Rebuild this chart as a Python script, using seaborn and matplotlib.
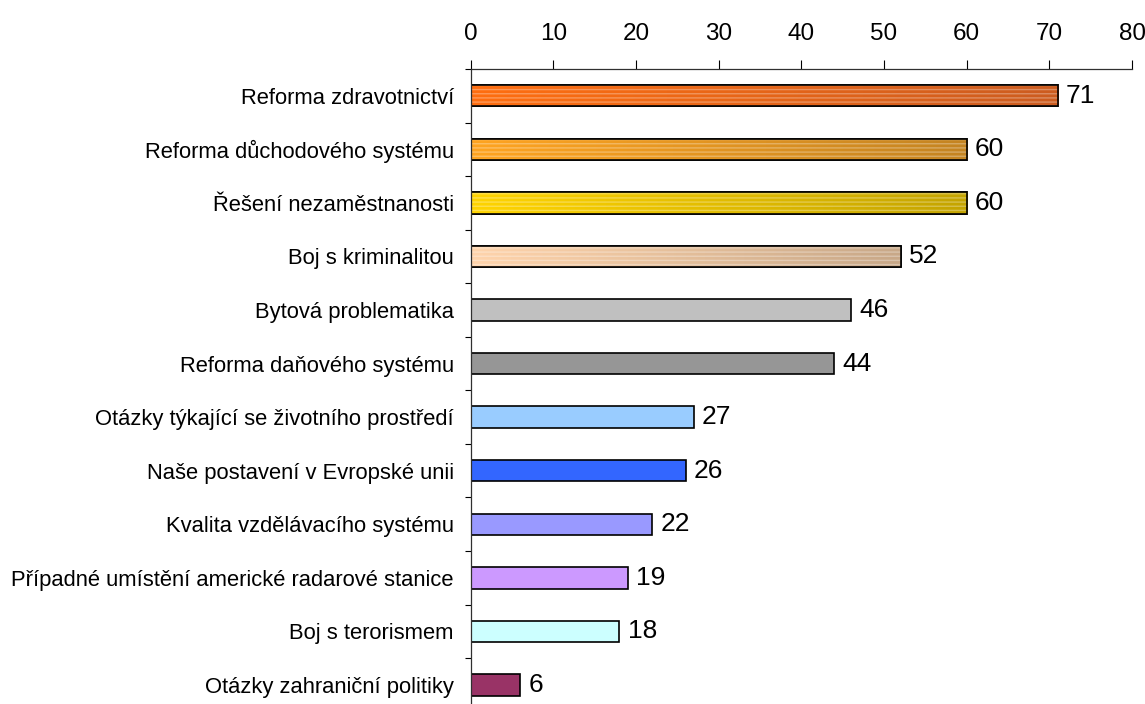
import numpy as np
import matplotlib
matplotlib.use('Agg')
import matplotlib.pyplot as plt
from matplotlib.colors import LinearSegmentedColormap
from matplotlib.patches import Rectangle
from matplotlib.ticker import FixedLocator
import seaborn as sns

# Survey answers, values in percent
categories = [
    'Reforma zdravotnictví',
    'Reforma důchodového systému',
    'Řešení nezaměstnanosti',
    'Boj s kriminalitou',
    'Bytová problematika',
    'Reforma daňového systému',
    'Otázky týkající se životního prostředí',
    'Naše postavení v Evropské unii',
    'Kvalita vzdělávacího systému',
    'Případné umístění americké radarové stanice',
    'Boj s terorismem',
    'Otázky zahraniční politiky',
]
values = [71, 60, 60, 52, 46, 44, 27, 26, 22, 19, 18, 6]
bar_colors = ['#f26a14', '#f2960f', '#f0c800', '#f0c8a0', '#c0c0c0', '#969696',
              '#99ccff', '#3366ff', '#9999ff', '#cc99ff', '#ccffff', '#993366']
# gradient ends (left, right) for the hatched bars at the top
gradients = [('#ff6e10', '#cc5c20'), ('#ffa420', '#c48422'),
             ('#ffd400', '#c4a400'), ('#ffd4ac', '#c8a888')]
x_ticks = [0, 10, 20, 30, 40, 50, 60, 70, 80]

sns.set_style('white')
plt.rcParams['font.family'] = ['Liberation Sans', 'DejaVu Sans']
plt.rcParams['text.color'] = 'black'
plt.rcParams['xtick.color'] = 'black'
plt.rcParams['ytick.color'] = 'black'

fig = plt.figure(figsize=(11.45, 7.04), dpi=100)
ax = fig.add_axes([0.411, -0.011, 0.5777, 0.913])

sns.barplot(x=values, y=categories, hue=categories, palette=bar_colors,
            legend=False, orient='h', width=0.4, edgecolor='black',
            linewidth=1.2, ax=ax, saturation=1)

# gradient + fine horizontal stripes on the first four bars
for patch, (c_left, c_right) in zip(ax.patches[:4], gradients):
    x0, y0 = patch.get_x(), patch.get_y()
    w, h = patch.get_width(), patch.get_height()
    cmap = LinearSegmentedColormap.from_list('g', [c_left, c_right])
    img = ax.imshow(np.linspace(0, 1, 256).reshape(1, -1), cmap=cmap,
                    extent=(x0, x0 + w, y0 + h, y0), aspect='auto',
                    zorder=patch.get_zorder() + 0.1, interpolation='bilinear')
    img.set_clip_path(patch)
    hatch = Rectangle((x0, y0), w, h, facecolor='none', edgecolor='#ffffff',
                      linewidth=0, hatch='----', alpha=0.3,
                      zorder=patch.get_zorder() + 0.2)
    ax.add_patch(hatch)
    outline = Rectangle((x0, y0), w, h, facecolor='none', edgecolor='black',
                        linewidth=1.2, zorder=patch.get_zorder() + 0.3)
    ax.add_patch(outline)

# value labels
for patch, v in zip(ax.patches[:len(values)], values):
    ax.text(patch.get_width() + 1.0, patch.get_y() + patch.get_height() / 2,
            str(v), va='center', ha='left', fontsize=19)

ax.set_xlim(0, 80)
ax.set_ylim(len(categories) - 0.5, -0.5)
ax.xaxis.tick_top()
ax.set_xticks(x_ticks)
ax.tick_params(axis='x', which='major', direction='out', length=6.5,
               width=0.8, labelsize=17.5, pad=11, top=True, bottom=False)
ax.tick_params(axis='y', which='major', length=0, labelsize=15.8, pad=12)
ax.yaxis.set_minor_locator(FixedLocator(np.arange(-0.5, len(categories), 1.0)))
ax.tick_params(axis='y', which='minor', direction='out', length=4.5,
               width=0.8, left=True)
ax.set_xlabel('')
ax.set_ylabel('')

for side in ['right', 'bottom']:
    ax.spines[side].set_visible(False)
for side in ['top', 'left']:
    ax.spines[side].set_color('#303030')
    ax.spines[side].set_linewidth(0.9)
ax.grid(False)

fig.savefig('out.png', dpi=100)
